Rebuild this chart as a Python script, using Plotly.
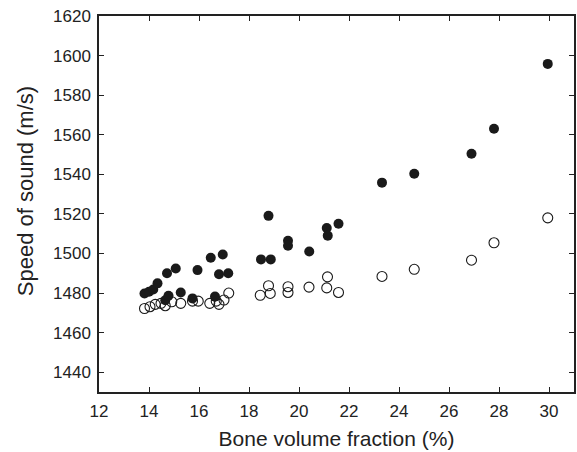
import plotly.graph_objects as go

# Speed of sound vs bone volume fraction, two measurement sets
bvf_filled = [13.82, 14.0, 14.17, 14.34, 14.65, 14.72, 14.78, 15.07, 15.27, 15.74,
              15.94, 16.47, 16.64, 16.8, 16.95, 17.17, 18.48, 18.78, 18.87, 19.56,
              19.56, 20.41, 21.11, 21.15, 21.58, 23.32, 24.61, 26.9, 27.8, 29.95]
sos_filled = [1479.8, 1480.7, 1481.8, 1484.9, 1476.4, 1490.0, 1478.6, 1492.4, 1480.3, 1477.3,
              1491.6, 1497.8, 1478.2, 1489.5, 1499.5, 1490.0, 1497.0, 1519.0, 1497.0, 1506.4,
              1503.9, 1501.0, 1512.9, 1509.0, 1515.0, 1535.8, 1540.3, 1550.4, 1563.0, 1595.8]

bvf_open = [13.82, 14.04, 14.25, 14.48, 14.65, 14.91, 15.27, 15.74, 15.97, 16.43,
            16.69, 16.8, 17.0, 17.19, 18.45, 18.78, 18.85, 19.56, 19.56, 20.4,
            21.11, 21.14, 21.58, 23.32, 24.61, 26.9, 27.8, 29.95]
sos_open = [1472.2, 1473.1, 1474.3, 1474.8, 1473.6, 1475.6, 1474.8, 1475.9, 1475.9, 1474.8,
            1475.9, 1474.3, 1476.5, 1480.0, 1478.9, 1483.7, 1479.8, 1483.2, 1480.3, 1483.0,
            1482.6, 1488.2, 1480.3, 1488.4, 1492.0, 1496.6, 1505.4, 1518.0]

x_ticks = list(range(12, 31, 2))
y_ticks = list(range(1440, 1621, 20))

FONT = "Liberation Sans, Arial, sans-serif"

fig = go.Figure()
fig.add_trace(go.Scatter(
    x=bvf_open, y=sos_open, mode="markers",
    marker=dict(symbol="circle-open", size=10, color="#1a1a1a", line=dict(width=1.1)),
    showlegend=False,
))
fig.add_trace(go.Scatter(
    x=bvf_filled, y=sos_filled, mode="markers",
    marker=dict(symbol="circle", size=10, color="#1a1a1a", line=dict(width=0)),
    showlegend=False,
))

axis_style = dict(
    showline=True, mirror="ticks", linecolor="#222", linewidth=1.5,
    ticks="inside", ticklen=5, tickcolor="#222", tickwidth=1,
    showgrid=False, zeroline=False,
    tickfont=dict(family=FONT, size=17, color="#222"),
)

fig.update_xaxes(range=[12, 31], tickvals=x_ticks, ticklabelstandoff=3,
                 title=dict(text="Bone volume fraction (%)", standoff=11,
                            font=dict(family=FONT, size=21, color="#222")),
                 **axis_style)
fig.update_yaxes(range=[1430, 1620], tickvals=y_ticks, ticklabelstandoff=3,
                 **axis_style)

# y-axis title placed as a rotated annotation
fig.add_annotation(
    text="Speed of sound (m/s)", textangle=-90,
    xref="paper", yref="paper", x=-0.155, y=0.535,
    xanchor="center", yanchor="middle", showarrow=False,
    font=dict(family=FONT, size=22, color="#222"),
)

fig.update_layout(
    width=577, height=452,
    margin=dict(l=99, r=1, t=16, b=60),
    plot_bgcolor="white", paper_bgcolor="white",
)

fig.write_html("out.html")
